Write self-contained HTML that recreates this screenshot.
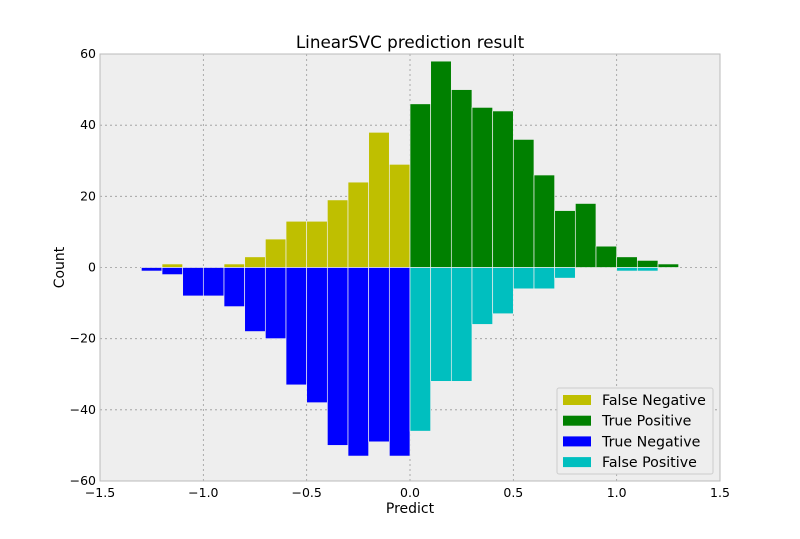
<!DOCTYPE html>
<html><head><meta charset="utf-8"><style>
body{margin:0;background:#fff;font-family:"Liberation Sans","DejaVu Sans",sans-serif}
svg text{font-family:"DejaVu Sans","Liberation Sans",sans-serif}
</style></head><body>
<svg id="chart" width="800" height="534"></svg>
<script>
const negBins=[-1.3,-1.2,-1.1,-1.0,-0.9,-0.8,-0.7,-0.6,-0.5,-0.4,-0.3,-0.2,-0.1];
const posBins=[0,0.1,0.2,0.3,0.4,0.5,0.6,0.7,0.8,0.9,1.0,1.1,1.2];
const falseNegative=[0,1,0,0,1,3,8,13,13,19,24,38,29];
const trueNegative=[-1,-2,-8,-8,-11,-18,-20,-33,-38,-50,-53,-49,-53];
const truePositive=[46,58,50,45,44,36,26,16,18,6,3,2,1];
const falsePositive=[-46,-32,-32,-16,-13,-6,-6,-3,0,0,-1,-1,0];
const xTicks=[-1.5,-1.0,-0.5,0.0,0.5,1.0,1.5];
const yTicks=[-60,-40,-20,0,20,40,60];
const binW=0.1;
const L=100,R=720,T=54,B=481;
const sx=v=>L+(v+1.5)/3*(R-L);
const sy=v=>T+(60-v)/120*(B-T);
const svg=document.getElementById('chart');
const NS='http://www.w3.org/2000/svg';
function mk(tag,attrs,parent){const e=document.createElementNS(NS,tag);for(const k in attrs)e.setAttribute(k,attrs[k]);(parent||svg).appendChild(e);return e;}
const bg=mk('rect',{x:L,y:T,width:R-L,height:B-T,fill:'#eeeeee'});


xTicks.forEach(t=>{const g=mk('line',{x1:sx(t),x2:sx(t),y1:T,y2:B,stroke:'#999',"stroke-dasharray":'2,3','stroke-width':0.8});


const lb=mk('text',{x:sx(t),y:B+16,'text-anchor':'middle','font-size':12.5,fill:'#000'});lb.textContent=(t<0?'\u2212':'')+Math.abs(t).toFixed(1);

});
yTicks.forEach(t=>{const g=mk('line',{x1:L,x2:R,y1:sy(t),y2:sy(t),stroke:'#999',"stroke-dasharray":'2,3','stroke-width':0.8});


const lb=mk('text',{x:L-4,y:sy(t)+4,'text-anchor':'end','font-size':12.5,fill:'#000'});lb.textContent=(t<0?'\u2212':'')+Math.abs(t);

});
function bars(bins,vals,color,name){bins.forEach((b,i)=>{const v=vals[i];if(!v)return;
const y0=sy(Math.max(0,v)),y1=sy(Math.min(0,v));
const r=mk('rect',{x:sx(b),y:y0,width:sx(b+binW)-sx(b),height:y1-y0,fill:color,stroke:'#eeeeee','stroke-width':0.7});

});}
bars(negBins,falseNegative,'#bfbf00','false-negative-bar');
bars(negBins,trueNegative,'#0000ff','true-negative-bar');
bars(posBins,truePositive,'#008000','true-positive-bar');
bars(posBins,falsePositive,'#00bfbf','false-positive-bar');
const fr=mk('rect',{x:L,y:T,width:R-L,height:B-T,fill:'none',stroke:'#bbb','stroke-width':1});


const title=mk('text',{x:(L+R)/2,y:T-6,'text-anchor':'middle','font-size':16.8});title.textContent='LinearSVC prediction result';


const xl=mk('text',{x:(L+R)/2,y:B+32,'text-anchor':'middle','font-size':14});xl.textContent='Predict';


const yl=mk('text',{x:0,y:0,'text-anchor':'middle','font-size':14,transform:`translate(64,${(T+B)/2}) rotate(-90)`});yl.textContent='Count';


const lg=mk('g',{});


mk('rect',{x:557,y:388,width:156,height:86,fill:'#eeeeee',stroke:'#ccc',rx:2},lg);
const entries=[['False Negative','#bfbf00'],['True Positive','#008000'],['True Negative','#0000ff'],['False Positive','#00bfbf']];
entries.forEach((e,i)=>{const y=398+i*20.7;
const sw=mk('rect',{x:563,y:y-3,width:28,height:10,fill:e[1]},lg);


const t=mk('text',{x:602,y:y+7,'font-size':14.2},lg);t.textContent=e[0];

});
</script>
</body></html>
